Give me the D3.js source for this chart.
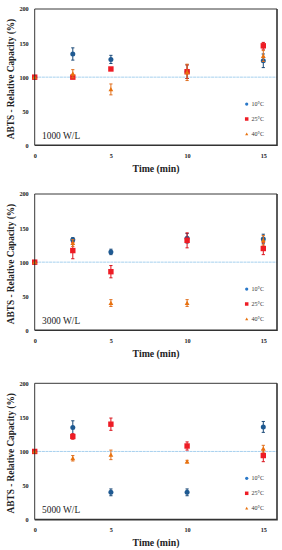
<!DOCTYPE html>
<html><head><meta charset="utf-8">
<script src="https://cdn.jsdelivr.net/npm/d3@7"></script>
<style>body{margin:0;background:#fff}svg{display:block}</style>
</head><body>
<script>
const times = [0, 2.5, 5, 10, 15];
const xTicks = [0, 5, 10, 15];
const yTicks = [0, 50, 100, 150, 200];
const seriesNames = ["10\u00B0C", "25\u00B0C", "40\u00B0C"];
const panelLabels = ["1000 W/L", "3000 W/L", "5000 W/L"];

const p1_10 = [100, 134, 126, 108, 124];
const p1_10err = [0, 9, 6, 10, 10];
const p1_25 = [100, 100, 112, 108, 146];
const p1_25err = [0, 2, 2, 10, 5];
const p1_40 = [100, 105, 82, 107, 131];
const p1_40err = [0, 6, 8, 12, 8];

const p2_10 = [100, 133, 115, 135, 134];
const p2_10err = [0, 3, 4, 7, 7];
const p2_25 = [100, 117, 86, 132, 120];
const p2_25err = [0, 12, 9, 11, 9];
const p2_40 = [100, 128, 40, 40, 132];
const p2_40err = [0, 5, 5, 5, 7];

const p3_10 = [100, 135, 40, 40, 136];
const p3_10err = [0, 10, 5, 5, 8];
const p3_25 = [100, 122, 140, 108, 94];
const p3_25err = [0, 4, 9, 6, 9];
const p3_40 = [100, 90, 95, 85, 104];
const p3_40err = [0, 4, 7, 2, 5];

const panelData = [
  [[p1_10, p1_10err], [p1_25, p1_25err], [p1_40, p1_40err]],
  [[p2_10, p2_10err], [p2_25, p2_25err], [p2_40, p2_40err]],
  [[p3_10, p3_10err], [p3_25, p3_25err], [p3_40, p3_40err]]
];

const W = 282, H = 550;
const panelTops = [9, 194, 383.3];
const ph = 136.3;
const left = 34.7, right = 277;
const markerFill = ["#1f5a92", "#ee1c25", "#e8720f"];
const barColor = ["#1c4a78", "#d9141c", "#e07020"];
const legendFill = ["#2a78c8", "#ee1c25", "#e8720f"];
const serif = "'Liberation Serif','DejaVu Serif',serif";

const svg = d3.select("body").append("svg").attr("width", W).attr("height", H);

const x = d3.scaleLinear().domain([0, 15]).range([left, 263.3]);

panelData.forEach((pd, pi) => {
  const top = panelTops[pi];
  const y = d3.scaleLinear().domain([0, 200]).range([top + ph, top]);
  const g = svg.append("g");

  // reference line at 100
  g.append("line").attr("x1", left).attr("x2", right)
    .attr("y1", y(100)).attr("y2", y(100))
    .attr("stroke", "#a6d0ee").attr("stroke-width", 1).attr("stroke-dasharray", "3,0.6");

  // axes
  const ya = g.append("g").attr("transform", `translate(${left},0)`)
    .call(d3.axisLeft(y).tickValues(yTicks).tickSize(0).tickPadding(6));
  ya.select(".domain").remove();
  ya.selectAll("text").attr("font-family", serif).attr("font-weight", "bold")
    .attr("font-size", 6.2).attr("fill", "#222");

  const xa = g.append("g").attr("transform", `translate(0,${top + ph})`)
    .call(d3.axisBottom(x).tickValues(xTicks).tickSize(0).tickPadding(8));
  xa.select(".domain").remove();
  xa.selectAll("text").attr("font-family", serif).attr("font-weight", "bold")
    .attr("font-size", 6.2).attr("fill", "#222");

  // titles
  g.append("text").attr("x", 156).attr("y", top + ph + 26.5)
    .attr("text-anchor", "middle").attr("font-family", serif).attr("font-weight", "bold")
    .attr("font-size", 9.8).attr("fill", "#222").text("Time (min)");
  g.append("text").attr("transform", `translate(14,${top + 70}) rotate(-90)`)
    .attr("text-anchor", "middle").attr("font-family", serif).attr("font-weight", "bold")
    .attr("font-size", 9.3).attr("fill", "#222").text("ABTS - Relative Capacity (%)");

  // panel label
  g.append("text").attr("x", 42).attr("y", top + 130)
    .attr("font-family", serif).attr("font-size", 9.4).attr("fill", "#222")
    .text(panelLabels[pi]);

  // series
  pd.forEach(([vals, errs], si) => {
    const sg = g.append("g");
    times.forEach((t, i) => {
      const cx = x(t), cy = y(vals[i]), e = errs[i];
      if (e > 0) {
        sg.append("line").attr("x1", cx).attr("x2", cx)
          .attr("y1", y(vals[i] - e)).attr("y2", y(vals[i] + e))
          .attr("stroke", barColor[si]).attr("stroke-width", 1);
        [vals[i] - e, vals[i] + e].forEach(v => {
          sg.append("line").attr("x1", cx - 1.6).attr("x2", cx + 1.6)
            .attr("y1", y(v)).attr("y2", y(v))
            .attr("stroke", barColor[si]).attr("stroke-width", 1);
        });
      }
      drawMarker(sg, si, cx, cy, markerFill[si], 1);
    });
  });

  // legend
  seriesNames.forEach((n, si) => {
    const ly = top + 95 + si * 15;
    drawMarker(g, si, 246.7, ly, legendFill[si], 0.65);
    g.append("text").attr("x", 251.5).attr("y", ly + 2)
      .attr("font-family", serif).attr("font-size", 6).attr("fill", "#333").text(n);
  });

  // plot box
  g.append("path")
    .attr("d", `M${left},${top + ph}V${top}H${right}`)
    .attr("fill", "none").attr("stroke", "#222").attr("stroke-width", 0.9);
  g.append("path")
    .attr("d", `M${left},${top + ph}H${right}V${top}`)
    .attr("fill", "none").attr("stroke", "#333").attr("stroke-width", 1.6);
});

function drawMarker(sel, si, cx, cy, fill, s) {
  if (si === 0) {
    sel.append("circle").attr("cx", cx).attr("cy", cy).attr("r", 2.5 * s).attr("fill", fill);
  } else if (si === 1) {
    const h = 2.7 * s;
    sel.append("rect").attr("x", cx - h).attr("y", cy - h).attr("width", 2 * h).attr("height", 2 * h).attr("fill", fill);
  } else {
    const h = 2.4 * s;
    sel.append("path").attr("d", `M${cx},${cy - h}L${cx + h},${cy + h * 0.8}L${cx - h},${cy + h * 0.8}Z`).attr("fill", fill);
  }
}
</script>
</body></html>
